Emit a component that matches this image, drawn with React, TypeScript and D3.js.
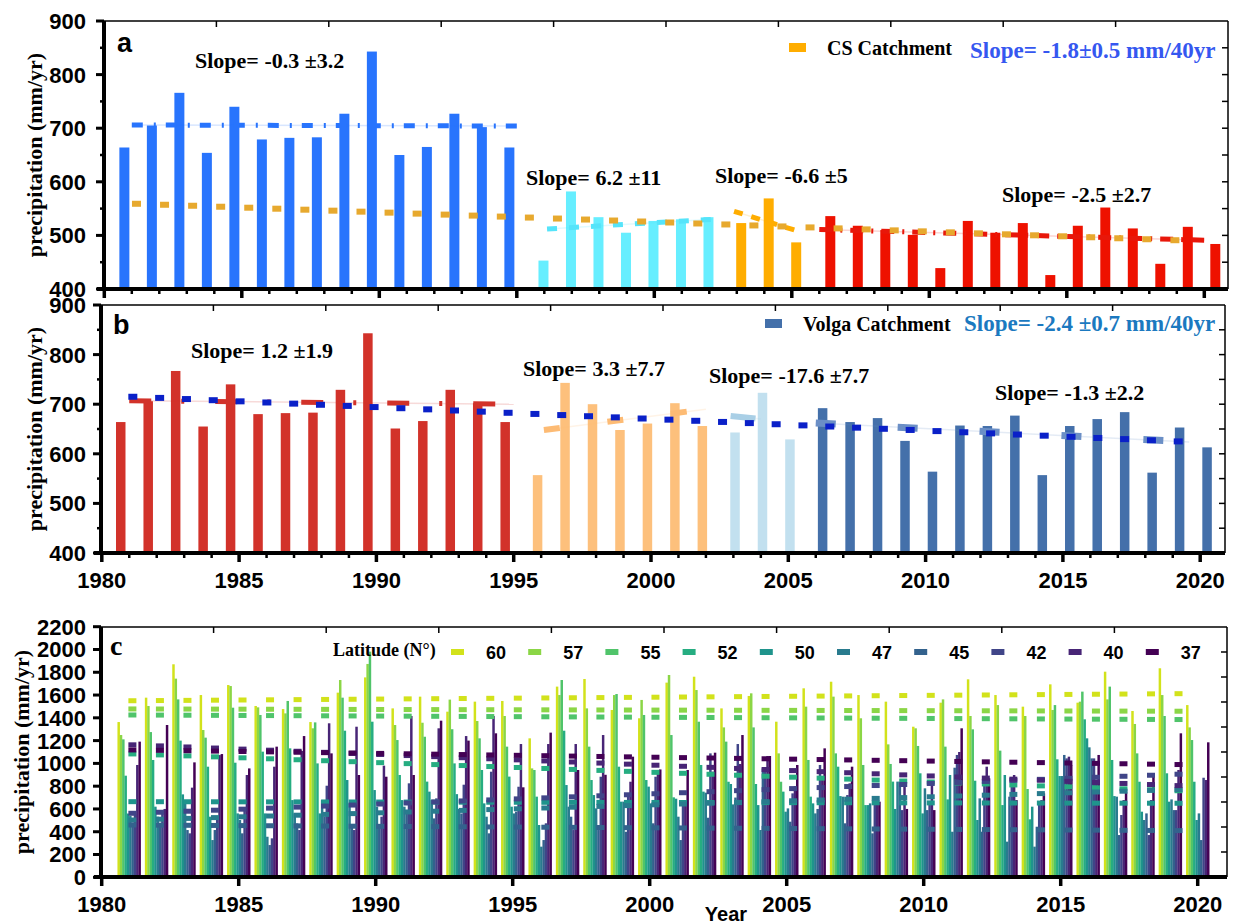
import * as d3 from 'd3';
import React from 'react';

const W = 1237;
const H = 922;
const SANS = '"Liberation Sans", Arial, sans-serif';
const SERIF = '"Liberation Serif", "Times New Roman", serif';

const years = d3.range(1981, 2021);

// panel a: CS catchment annual precipitation (mm/yr)
const csValues = [
  664, 705, 766, 654, 740, 679, 682, 683, 727, 843, 650, 665, 727, 702, 664,
  453, 582, 534, 505, 527, 530, 534,
  523, 569, 487,
  536, 518, 510, 501, 439, 527, 505, 523, 426, 518, 552, 513, 447, 516, 484,
];
// panel b: Volga catchment annual precipitation (mm/yr)
const volgaValues = [
  664, 706, 767, 655, 740, 680, 682, 683, 729, 843, 651, 666, 729, 702, 664,
  557, 743, 700, 648, 661, 702, 656,
  643, 723, 629,
  692, 664, 672, 626, 564, 657, 656, 677, 557, 656, 670, 684, 562, 653, 613,
];

// period bounds (first, last year)
const periods = [
  [1981, 1995],
  [1996, 2002],
  [2003, 2005],
  [2006, 2020],
];
const csSlopes = ['Slope= -0.3 ±3.2', 'Slope= 6.2 ±11', 'Slope= -6.6 ±5', 'Slope= -2.5 ±2.7'];
const volgaSlopes = ['Slope= 1.2 ±1.9', 'Slope= 3.3 ±7.7', 'Slope= -17.6 ±7.7', 'Slope= -1.3 ±2.2'];

// fitted period lines [start, end] values
const csPeriodFits = [[706, 704], [512, 530], [545, 510], [511, 491]];
const volgaPeriodFits = [[707, 700], [648, 690], [676, 670], [662, 624]];

// long-term fit lines
const csTrend = [559, 491];
const volgaTrend = [715, 625];

// panel c: latitude bands
const latitudes = [60, 57, 55, 52, 50, 47, 45, 42, 40, 37];
const lat60 = [1363, 1577, 1870, 1600, 1688, 1504, 1477, 1363, 1621, 1755, 1483, 1586, 1454, 1542, 1548, 1220, 1674, 1741, 1469, 1396, 1709, 1761, 1483, 1592, 1366, 1659, 1717, 1600, 1542, 1322, 1533, 1738, 1600, 1498, 1694, 1533, 1805, 1460, 1835, 1512];
const lat57 = [1249, 1504, 1744, 1293, 1679, 1492, 1439, 1308, 1732, 1873, 1337, 1357, 1560, 1372, 1416, 956, 1600, 1483, 1600, 1557, 1776, 1644, 1316, 1615, 1088, 1498, 1586, 1396, 1167, 1308, 1562, 1416, 1512, 1416, 1469, 1542, 1562, 1346, 1600, 1316];
const lat55 = [1211, 1275, 1562, 1226, 1489, 1425, 1548, 1360, 1577, 1981, 1205, 1234, 1300, 1220, 1147, 942, 1732, 1147, 1609, 1425, 1249, 1366, 1191, 1316, 839, 1030, 1088, 986, 995, 1153, 1147, 1299, 1112, 775, 1512, 1630, 1674, 1088, 1416, 1205];
const lat52 = [892, 1030, 1200, 971, 1006, 1103, 1132, 1000, 1287, 1366, 898, 840, 1000, 942, 884, 708, 1287, 854, 971, 854, 702, 986, 839, 819, 752, 708, 971, 634, 840, 913, 684, 848, 634, 509, 1036, 1387, 1030, 839, 913, 839];
const lat50 = [560, 620, 728, 532, 561, 561, 678, 561, 854, 766, 678, 752, 730, 649, 620, 459, 810, 722, 664, 796, 690, 752, 819, 634, 576, 649, 713, 634, 600, 561, 898, 503, 898, 620, 889, 1220, 713, 576, 664, 503];
const lat47 = [540, 532, 678, 327, 503, 356, 561, 678, 649, 620, 620, 678, 600, 532, 561, 269, 620, 605, 664, 649, 532, 743, 640, 415, 605, 561, 708, 649, 840, 781, 400, 693, 313, 269, 889, 1141, 708, 503, 684, 561];
const lat45 = [480, 444, 415, 415, 386, 283, 473, 532, 444, 444, 561, 517, 560, 386, 576, 327, 532, 415, 400, 474, 327, 523, 700, 956, 488, 600, 474, 386, 840, 590, 962, 400, 708, 444, 1074, 1044, 371, 561, 590, 327];
const lat42 = [560, 590, 386, 503, 590, 342, 415, 804, 415, 532, 825, 693, 813, 927, 795, 474, 415, 883, 722, 883, 649, 1088, 1170, 965, 737, 986, 722, 664, 590, 649, 1074, 869, 869, 649, 1044, 1044, 547, 371, 590, 874];
const lat40 = [986, 600, 787, 1073, 898, 971, 1109, 1352, 1322, 980, 1416, 1308, 1240, 1416, 1170, 1170, 1170, 1249, 839, 942, 678, 927, 995, 1065, 801, 854, 825, 649, 840, 854, 1100, 971, 898, 678, 1059, 854, 678, 678, 942, 854];
const lat37 = [1191, 1337, 1009, 1082, 956, 1147, 1240, 1088, 898, 883, 898, 1375, 1200, 1264, 790, 1270, 942, 900, 1059, 947, 942, 1094, 1249, 1065, 986, 1132, 971, 664, 600, 590, 1308, 869, 678, 737, 986, 1074, 752, 883, 1264, 1185];
const latValues = [lat60, lat57, lat55, lat52, lat50, lat47, lat45, lat42, lat40, lat37];
// fitted lines per latitude [start, end]
const latTrends = [
  [1550, 1612], [1478, 1458], [1425, 1385], [1083, 760], [664, 650],
  [503, 770], [459, 410], [562, 905], [1163, 805], [1118, 990],
];

const yTicksAB = [400, 500, 600, 700, 800, 900];
const yTicksC = d3.range(0, 2201, 200);
const xTickYears = [1980, 1985, 1990, 1995, 2000, 2005, 2010, 2015, 2020];

const latColor = (i: number) => d3.interpolateViridis(0.93 * (1 - i / 9));

type Box = { x0: number; x1: number; y0: number; y1: number };

function Frame({
  box, y, majors, minors, x, yearMinor, xLabels, labelSize,
}: {
  box: Box;
  y: d3.ScaleLinear<number, number>;
  majors: number[];
  minors: number[];
  x: d3.ScaleLinear<number, number>;
  yearMinor: boolean;
  xLabels: boolean;
  labelSize: number;
}) {
  const { x0, x1, y0, y1 } = box;
  return (
    <g>
      <line x1={x0} x2={x1} y1={y0} y2={y0} stroke="#000" strokeWidth={1.5} />
      <line x1={x1} x2={x1} y1={y0} y2={y1} stroke="#000" strokeWidth={1.5} />
      {d3.range(1, 10).map(k => (
        <line key={'t' + k} x1={x0 + (k * (x1 - x0)) / 10} x2={x0 + (k * (x1 - x0)) / 10} y1={y0} y2={y0 + 6} stroke="#000" strokeWidth={1.5} />
      ))}
      {d3.range(1, 10).map(k => (
        <line key={'r' + k} x1={x1} x2={x1 - 6} y1={y0 + (k * (y1 - y0)) / 10} y2={y0 + (k * (y1 - y0)) / 10} stroke="#000" strokeWidth={1.5} />
      ))}
      {majors.map(v => (
        <g key={'m' + v}>
          <line x1={x0 - 8} x2={x0} y1={y(v)} y2={y(v)} stroke="#000" strokeWidth={3} />
          <text x={86} y={y(v)} dy="0.36em" textAnchor="end" fontFamily={SANS} fontWeight="bold" fontSize={labelSize}>
            {v}
          </text>
        </g>
      ))}
      {minors.map(v => (
        <line key={'n' + v} x1={x0 - 4} x2={x0} y1={y(v)} y2={y(v)} stroke="#000" strokeWidth={2.5} />
      ))}
      {yearMinor &&
        d3.range(1981, 2021).filter(v => v % 5 !== 0).map(v => (
          <line key={'ym' + v} x1={x(v)} x2={x(v)} y1={y1} y2={y1 + 5} stroke="#000" strokeWidth={2.5} />
        ))}
      {xTickYears.map(v => (
        <g key={'x' + v}>
          <line x1={x(v)} x2={x(v)} y1={y1} y2={y1 + 9} stroke="#000" strokeWidth={3.5} />
          {xLabels && (
            <text x={x(v)} y={y1 + 35} textAnchor="middle" fontFamily={SANS} fontWeight="bold" fontSize={22}>
              {v}
            </text>
          )}
        </g>
      ))}
      <line x1={x0} x2={x0} y1={y0} y2={y1 + 2} stroke="#000" strokeWidth={4} />
      <line x1={x0 - 7} x2={x1} y1={y1} y2={y1} stroke="#000" strokeWidth={4} />
    </g>
  );
}

function YLabel({ cx, cy }: { cx: number; cy: number }) {
  return (
    <text transform={`translate(${cx},${cy}) rotate(-90)`} textAnchor="middle" dy="0.35em" fontFamily={SERIF} fontWeight="bold" fontSize={22}>
      precipitation (mm/yr)
    </text>
  );
}

function Squares({ x, y, from, to, count, values, w, h, color }: {
  x: d3.ScaleLinear<number, number>; y: d3.ScaleLinear<number, number>;
  from: number; to: number; count: number; values: number[]; w: number; h: number; color: string;
}) {
  const t = d3.scaleLinear().domain([0, count - 1]).range([from, to]);
  const v = d3.scaleLinear().domain([from, to]).range(values);
  return (
    <g>
      {d3.range(count).map(i => (
        <rect key={i} x={x(t(i)) - w / 2} y={y(v(t(i))) - h / 2} width={w} height={h} fill={color} />
      ))}
    </g>
  );
}

// ---------- panel a ----------
const boxA: Box = { x0: 104, x1: 1228, y0: 21, y1: 289 };
const xA = d3.scaleLinear().domain([1980, 2020]).range([104.3, 1204.3]);
const yA = d3.scaleLinear().domain([400, 900]).range([boxA.y1, boxA.y0]);
const aBars = [
  { color: '#2874fd', shift: -0.27 },
  { color: '#66eeff', shift: -0.03 },
  { color: '#ffad00', shift: 0.16 },
  { color: '#ee1100', shift: 0.4 },
];
const aFits = [
  { color: '#2874fd', dash: '11,11,2,10', width: 5, span: [1981.0, 1995.0] },
  { color: '#55e4fa', dash: '10,12', width: 5, span: [1996.1, 2002.1] },
  { color: '#ffad00', dash: '9,9', width: 5, span: [2002.9, 2005.1] },
  { color: '#e8170a', dash: '13,8,2,8', width: 5, span: [2006.0, 2020.0] },
];
const aLabelPos = [[195, 68], [526, 185], [715, 183], [1002, 202]];

// ---------- panel b ----------
const boxB: Box = { x0: 101, x1: 1225, y0: 305, y1: 553 };
const xB = d3.scaleLinear().domain([1980, 2020]).range([101.8, 1200.2]);
const yB = d3.scaleLinear().domain([400, 900]).range([boxB.y1, boxB.y0]);
const bBars = [
  { color: '#d2322a', shift: -0.31 },
  { color: '#fdc07c', shift: -0.13 },
  { color: '#c2e0ef', shift: 0.06 },
  { color: '#4470aa', shift: 0.25 },
];
const bFits = [
  { color: '#d2322a', dash: '22,30,3,31', width: 5, span: [1981.0, 1995.0] },
  { color: '#fdbb74', dash: '16,48', width: 6, span: [1996.1, 2002.0] },
  { color: '#a9cfe6', dash: '25,20', width: 6, span: [2002.9, 2004.0] },
  { color: '#6b8fc6', dash: '20,62', width: 7, span: [2006.0, 2019.6] },
];
const bLabelPos = [[191, 358], [523, 376], [709, 383], [995, 400]];

// ---------- panel c ----------
const boxC: Box = { x0: 101, x1: 1227, y0: 627, y1: 877 };
const xC = d3.scaleLinear().domain([1980, 2020]).range([101.7, 1197.7]);
const yC = d3.scaleLinear().domain([0, 2200]).range([877.3, 626.7]);
const groupW = 23.3;
const barW = groupW / latitudes.length;

function periodOf(year: number) {
  return periods.findIndex(p => year >= p[0] && year <= p[1]);
}

function SlopePanel({ values, x, y, bars, fits, fitValues, labels, labelPos, barWidth }: any) {
  return (
    <g>
      {years.map((yr, i) => {
        const p = periodOf(yr);
        const top = y(values[i]);
        return (
          <rect key={yr} x={x(yr + bars[p].shift) - barWidth / 2} y={top} width={barWidth} height={y(400) - top} fill={bars[p].color} />
        );
      })}
      {fits.map((f: any, k: number) => (
        <g key={k}>
          <line x1={x(f.span[0])} x2={x(f.span[1])} y1={y(fitValues[k][0])} y2={y(fitValues[k][1])} stroke={f.color} strokeOpacity={0.18} strokeWidth={1.5} />
          <line x1={x(f.span[0])} x2={x(f.span[1])} y1={y(fitValues[k][0])} y2={y(fitValues[k][1])} stroke={f.color} strokeWidth={f.width} strokeDasharray={f.dash} />
        </g>
      ))}
      {labels.map((s: string, k: number) => (
        <text key={s} x={labelPos[k][0]} y={labelPos[k][1]} fontFamily={SERIF} fontWeight="bold" fontSize={22}>
          {s}
        </text>
      ))}
    </g>
  );
}

export default function App() {
  return (
    <svg width={W} height={H} style={{ position: 'absolute', left: 0, top: 0, background: '#fff' }}>
      <rect width={W} height={H} fill="#fff" />

      {/* panel a */}
      <SlopePanel values={csValues} x={xA} y={yA} bars={aBars} fits={aFits} fitValues={csPeriodFits} labels={csSlopes} labelPos={aLabelPos} barWidth={10} />
      <Squares x={xA} y={yA} from={1981.17} to={2018.93} count={38} values={csTrend} w={9} h={6} color="#e7a92e" />
      <Frame box={boxA} y={yA} majors={yTicksAB} minors={[450, 550, 650, 750, 850]} x={xA} yearMinor xLabels={false} labelSize={22} />
      <text x={117} y={52} fontFamily={SANS} fontWeight="bold" fontSize={27}>a</text>
      <rect x={789} y={43} width={17} height={9} fill="#ffad00" />
      <text x={827} y={55} fontFamily={SERIF} fontWeight="bold" fontSize={20}>CS Catchment</text>
      <text x={970} y={58} fontFamily={SERIF} fontWeight="bold" fontSize={23} fill="#3557f0">Slope= -1.8±0.5 mm/40yr</text>
      <YLabel cx={34} cy={155} />

      {/* panel b */}
      <SlopePanel values={volgaValues} x={xB} y={yB} bars={bBars} fits={bFits} fitValues={volgaPeriodFits} labels={volgaSlopes} labelPos={bLabelPos} barWidth={9.5} />
      <Squares x={xB} y={yB} from={1981.13} to={2019.2} count={40} values={volgaTrend} w={9} h={6} color="#0a20c8" />
      <Frame box={boxB} y={yB} majors={yTicksAB} minors={[450, 550, 650, 750, 850]} x={xB} yearMinor xLabels labelSize={22} />
      <text x={113} y={334} fontFamily={SANS} fontWeight="bold" fontSize={27}>b</text>
      <rect x={765} y={319} width={17} height={9} fill="#4470aa" />
      <text x={803} y={331} fontFamily={SERIF} fontWeight="bold" fontSize={20}>Volga Catchment</text>
      <text x={964} y={331} fontFamily={SERIF} fontWeight="bold" fontSize={23} fill="#1b79c0">Slope= -2.4 ±0.7 mm/40yr</text>
      <YLabel cx={34} cy={429} />

      {/* panel c */}
      <g>
        {years.map((yr, i) => (
          <g key={yr}>
            {latitudes.map((lat, j) => {
              const top = yC(latValues[j][i]);
              return (
                <rect key={lat} x={xC(yr) - groupW / 2 + j * barW} y={top} width={barW + 0.15} height={yC(0) - top} fill={latColor(j)} />
              );
            })}
          </g>
        ))}
        {latitudes.map((lat, j) => (
          <Squares key={lat} x={xC} y={yC} from={1981.12} to={2019.3} count={39} values={latTrends[j]} w={8} h={5} color={latColor(j)} />
        ))}
      </g>
      <Frame box={boxC} y={yC} majors={yTicksC} minors={[]} x={xC} yearMinor={false} xLabels labelSize={22} />
      <text x={110} y={655} fontFamily={SERIF} fontWeight="bold" fontSize={28}>c</text>
      <text x={333} y={656} fontFamily={SERIF} fontWeight="bold" fontSize={18}>Latitude (N°)</text>
      {latitudes.map((lat, j) => (
        <g key={lat}>
          <rect x={451 + j * 77.2} y={649} width={13} height={6} fill={latColor(j)} />
          <text x={486 + j * 77.2} y={659} fontFamily={SANS} fontWeight="bold" fontSize={18}>{lat}</text>
        </g>
      ))}
      <YLabel cx={21} cy={752} />
      <text x={726} y={921} textAnchor="middle" fontFamily={SANS} fontWeight="bold" fontSize={20}>Year</text>
    </svg>
  );
}
